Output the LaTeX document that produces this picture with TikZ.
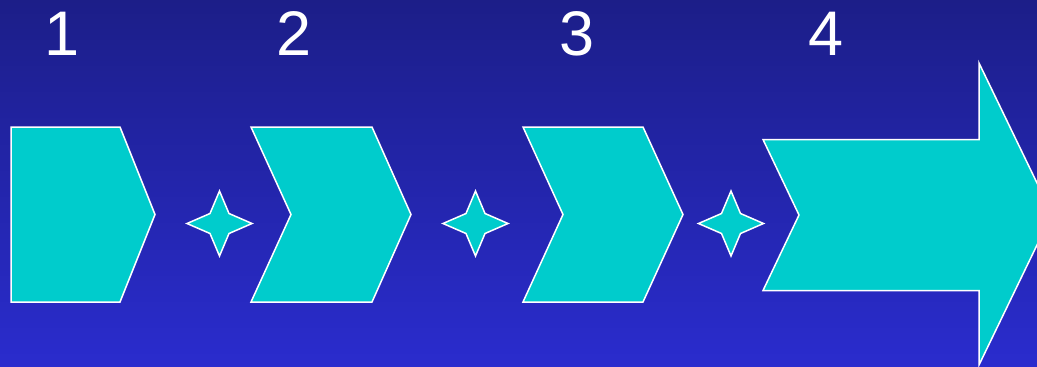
\documentclass[tikz,border=0pt]{standalone}
\usepackage{fontspec}
\setmainfont{Liberation Sans}
\definecolor{bgtop}{RGB}{28,30,136}
\definecolor{bgbot}{RGB}{42,44,206}
\definecolor{shapecyan}{RGB}{0,204,204}
\begin{document}
\begin{tikzpicture}[x=1pt,y=-1pt,
  shapestyle/.style={fill=shapecyan,draw=white,line width=1.5pt,line join=miter},
  numlabel/.style={text=white,font=\fontsize{63}{63}\selectfont,anchor=base,inner sep=0pt}]
\useasboundingbox (0,0) rectangle (1037,367);
\clip (0,0) rectangle (1037,367);
\shade[top color=bgtop,bottom color=bgbot] (0,0) rectangle (1037,367);
% labels
\node[numlabel] (n1) at (62,55) {1};
\node[numlabel] (n2) at (294,55) {2};
\node[numlabel] (n3) at (577,55) {3};
\node[numlabel] (n4) at (826,55) {4};
% shape 1
\draw[shapestyle] (11,127) -- (120,127) -- (155,214.5) -- (120,302) -- (11,302) -- cycle;
% chevrons
\draw[shapestyle] (251,127) -- (372,127) -- (411,214.5) -- (372,302) -- (251,302) -- (291,214.5) -- cycle;
\draw[shapestyle] (523,127) -- (643,127) -- (683,214.5) -- (643,302) -- (523,302) -- (563,214.5) -- cycle;
% big arrow
\draw[shapestyle] (763,139.5) -- (979,139.5) -- (979,63) -- (1052,214) -- (979,365) -- (979,290.5) -- (763,290.5) -- (799,215) -- cycle;
% stars
\foreach \cx in {219.5,475.5,731} {
  \draw[shapestyle] (\cx,191) -- (\cx+9.5,213.5) -- (\cx+32.5,223.5) -- (\cx+9.5,233.5) -- (\cx,256) -- (\cx-9.5,233.5) -- (\cx-32.5,223.5) -- (\cx-9.5,213.5) -- cycle;
}
\end{tikzpicture}
\end{document}
